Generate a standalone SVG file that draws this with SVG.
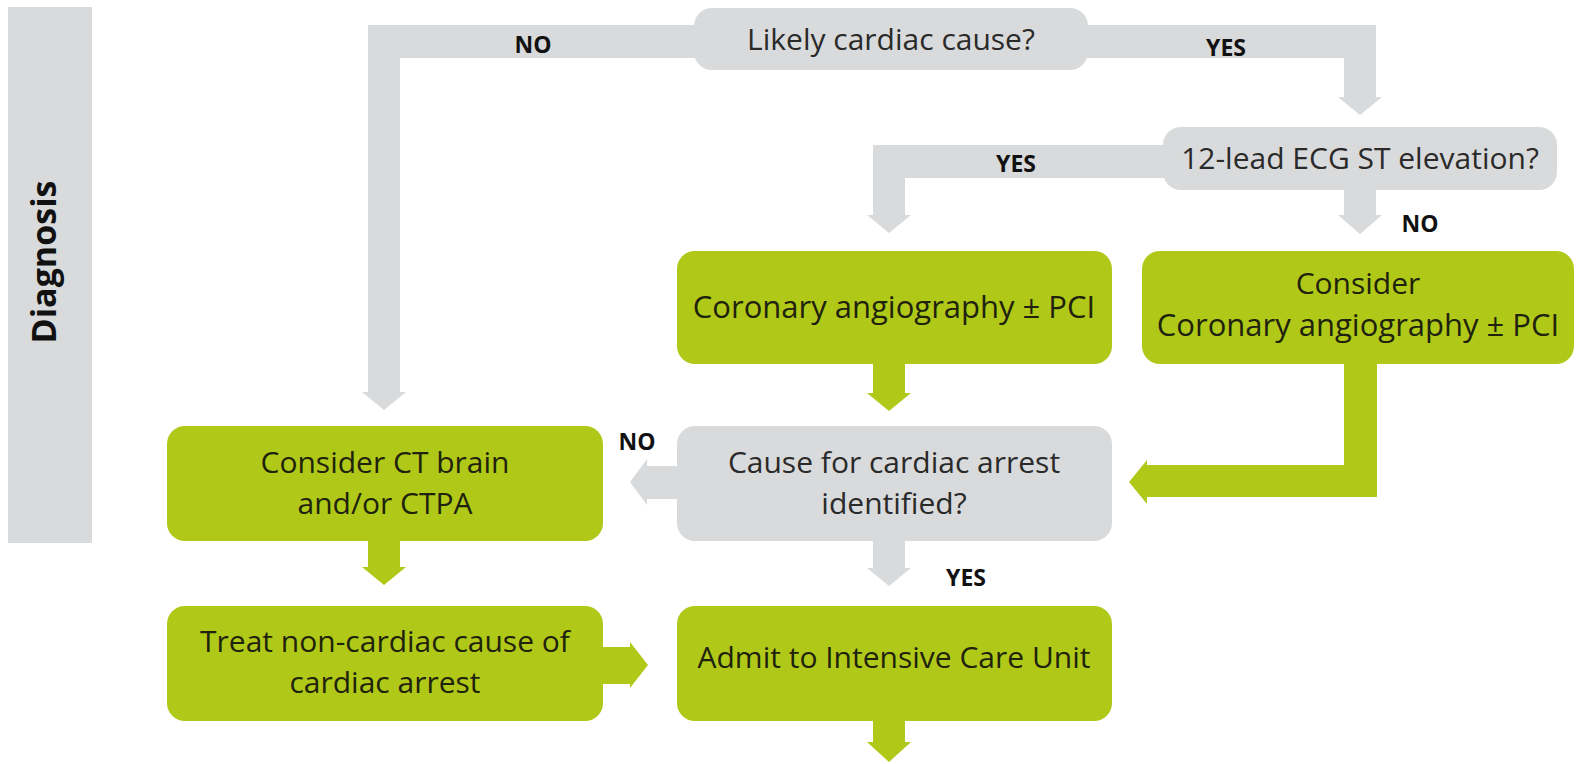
<svg xmlns="http://www.w3.org/2000/svg" width="1576" height="764" viewBox="0 0 1576 764">
<style>
.g{fill:#d9dadb}
.gr{fill:#b0c918}
.t{font-family:"Open Sans","Noto Sans",sans-serif;font-size:30px;fill:#2a2a2a;text-anchor:middle}
.tg{font-family:"Open Sans","Noto Sans",sans-serif;font-size:30px;fill:#1f230d;text-anchor:middle}
.l{font-family:"Open Sans","Noto Sans",sans-serif;font-size:23px;font-weight:bold;fill:#111;text-anchor:middle}
</style>
<rect width="1576" height="764" fill="#ffffff"/>
<g id="lane">
<rect class="g" x="8" y="7" width="84" height="536"/>
<text transform="translate(56,262) rotate(-90)" style="font-family:'Open Sans','Noto Sans',sans-serif;font-size:34px;font-weight:bold;fill:#111;text-anchor:middle">Diagnosis</text>
</g>
<g id="connectors">
<path class="g" d="M700 25 H368 V392 H362 L384 410 L406 392 H400 V58 H700 Z"/>
<path class="g" d="M1080 25 H1376 V97 H1382 L1360 115 L1338 97 H1344 V58 H1080 Z"/>
<path class="g" d="M1172 145 H873 V215 H867 L889 233 L911 215 H905 V178 H1172 Z"/>
<path class="g" d="M1344 185 H1376 V215 H1382 L1360 234 L1338 215 H1344 Z"/>
<path class="gr" d="M873 360 H905 V393 H911 L889 411 L867 393 H873 Z"/>
<path class="gr" d="M1344 360 H1377 V497 H1147 V504 L1129 482 L1147 460 V465 H1344 Z"/>
<path class="g" d="M682 466 V499 H647 V505 L630 482 L647 459 V466 Z"/>
<path class="g" d="M873 535 H905 V568 H911 L889 586 L867 568 H873 Z"/>
<path class="gr" d="M368 535 H400 V567 H406 L384 585 L362 567 H368 Z"/>
<path class="gr" d="M598 647 H630 V642 L648 665 L630 688 V684 H598 Z"/>
<path class="gr" d="M873 715 H905 V742 H911 L889 762 L867 742 H873 Z"/>
<text class="l" x="533" y="53">NO</text>
<text class="l" x="1226" y="56">YES</text>
<text class="l" x="1016" y="172">YES</text>
<text class="l" x="1420" y="232">NO</text>
<text class="l" x="637" y="450">NO</text>
<text class="l" x="966" y="586">YES</text>
</g>
<g id="likely">
<rect class="g" x="694" y="8" width="394" height="62" rx="18"/>
<text class="t" x="891" y="50">Likely cardiac cause?</text>
</g>
<g id="ecg">
<rect class="g" x="1163" y="127" width="394" height="63" rx="18"/>
<text class="t" x="1360" y="169">12-lead ECG ST elevation?</text>
</g>
<g id="angio">
<rect class="gr" x="677" y="251" width="435" height="113" rx="18"/>
<text class="tg" x="894" y="318" style="font-size:31px">Coronary angiography ± PCI</text>
</g>
<g id="consider-angio">
<rect class="gr" x="1142" y="251" width="432" height="113" rx="18"/>
<text class="tg" x="1358" y="294">Consider</text>
<text class="tg" x="1358" y="336" style="font-size:31px">Coronary angiography ± PCI</text>
</g>
<g id="cause">
<rect class="g" x="677" y="426" width="435" height="115" rx="18"/>
<text class="t" x="894" y="473">Cause for cardiac arrest</text>
<text class="t" x="894" y="514">identified?</text>
</g>
<g id="ct">
<rect class="gr" x="167" y="426" width="436" height="115" rx="18"/>
<text class="tg" x="385" y="473">Consider CT brain</text>
<text class="tg" x="385" y="514">and/or CTPA</text>
</g>
<g id="treat">
<rect class="gr" x="167" y="606" width="436" height="115" rx="18"/>
<text class="tg" x="385" y="652">Treat non-cardiac cause of</text>
<text class="tg" x="385" y="693">cardiac arrest</text>
</g>
<g id="icu">
<rect class="gr" x="677" y="606" width="435" height="115" rx="18"/>
<text class="tg" x="894" y="668">Admit to Intensive Care Unit</text>
</g>
</svg>
